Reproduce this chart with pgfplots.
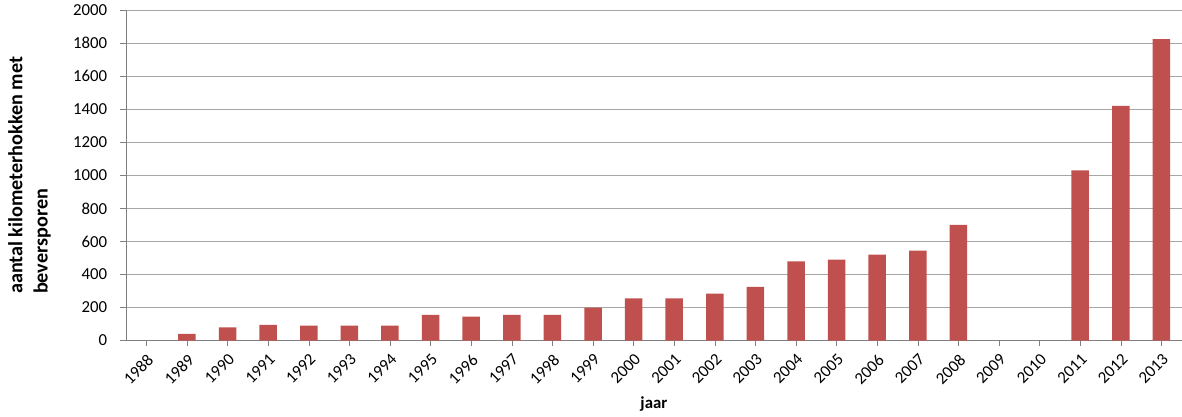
\documentclass[border=0pt]{standalone}
\usepackage{pgfplots}
\pgfplotsset{compat=1.18}
\usepackage{fontspec}
\setmainfont{Carlito}
\begin{document}
\begin{tikzpicture}
\begin{axis}[
  x=29pt, y=0.118pt,
  ybar, bar width=12.5pt,
  xmin=-0.5, xmax=25.5, ymin=0, ymax=2000,
  ytick={0,200,...,2000},
  xtick={0,...,25},
  xticklabels={1988,1989,1990,1991,1992,1993,1994,1995,1996,1997,1998,1999,2000,2001,2002,2003,2004,2005,2006,2007,2008,2009,2010,2011,2012,2013},
  xticklabel style={rotate=45, anchor=north east, font=\large},
  yticklabel style={font=\large, xshift=-6pt},
  /pgf/number format/assume math mode=true,
  /pgf/number format/1000 sep={},
  ymajorgrids, grid style={gray!70},
  axis x line*=bottom, axis y line*=left,
  x axis line style={gray}, y axis line style={gray},
  tick style={gray}, major tick length=4pt,
  xtick align=outside, ytick align=outside,
  xlabel={\textbf{\large jaar}}, ylabel={\textbf{\Large\begin{tabular}{l}aantal kilometerhokken met\\beversporen\end{tabular}}},
  ylabel style={yshift=6pt},
]
\addplot[fill={rgb,255:red,192;green,80;blue,77}, draw=none] coordinates {
(1,40)(2,80)(3,95)(4,90)(5,90)(6,90)(7,155)(8,145)(9,155)(10,155)(11,200)(12,255)(13,255)(14,285)(15,325)(16,480)(17,490)(18,520)(19,545)(20,700)(23,1030)(24,1420)(25,1825)};
\end{axis}
\end{tikzpicture}
\end{document}
